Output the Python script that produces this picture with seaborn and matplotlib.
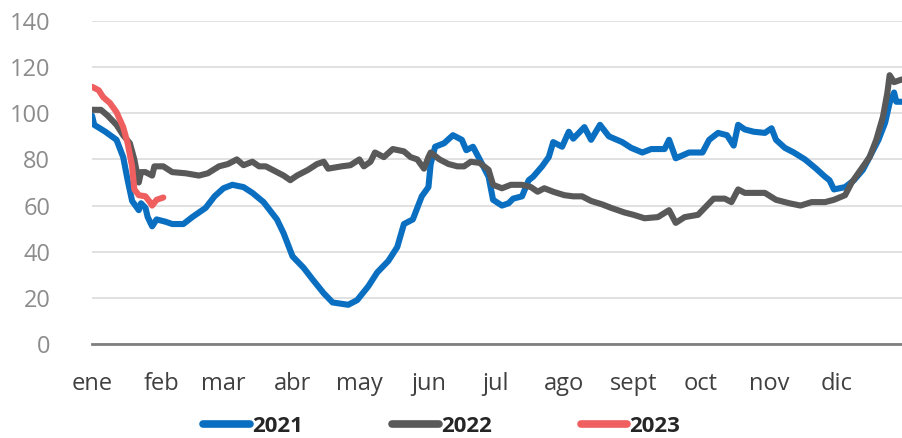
import pandas as pd
import matplotlib
matplotlib.use('Agg')
import matplotlib.pyplot as plt
import seaborn as sns

# day of year (0 = 1 ene) and value
dias_2021 = [0, 1, 6, 11, 14, 16, 18, 21, 22, 24, 25, 27, 29, 33, 36, 41, 45, 51, 55, 59,
             63, 68, 72, 77, 79, 83, 86, 90, 95, 99, 104, 108, 115, 119, 124, 128, 133, 137, 140, 144,
             148, 151, 152, 154, 158, 162, 166, 168, 171, 174, 178, 180, 184, 187, 189, 193, 196, 198, 202, 205,
             207, 211, 214, 216, 221, 224, 228, 232, 238, 242, 247, 251, 257, 259, 262, 268, 274, 277, 281, 285,
             288, 290, 293, 297, 302, 305, 307, 311, 315, 320, 325, 329, 331, 333, 338, 342, 346, 349, 353, 356,
             358, 360, 361, 365]
val_2021 = [99, 95, 92, 88.5, 81, 71, 62, 58, 61, 59, 55, 51, 54, 53, 52, 52, 55, 59, 64, 67.5,
            69, 68, 65.5, 61.5, 59, 54, 48, 38, 33, 28, 22, 18, 17, 19, 25, 31, 36, 42, 52, 54,
            64, 68, 78, 85.5, 87, 90.5, 88.5, 84, 85.5, 80, 72.5, 62.5, 60, 61, 63, 64, 71, 72.5, 77, 81,
            87.5, 85.5, 92, 89, 94, 88.5, 95, 90, 87.5, 85, 83, 84.5, 84.5, 88.5, 80.5, 83, 83, 88.5, 91.5, 90.5,
            86, 95, 93, 92, 91.5, 93.5, 88.5, 85, 83, 80, 76, 72.5, 71, 67, 68, 71, 75.5, 81, 88.5, 96,
            104.5, 109, 105, 105]

dias_2022 = [0, 4, 7, 11, 14, 17, 19, 21, 22, 24, 27, 28, 32, 36, 42, 48, 52, 57, 61, 65,
             68, 72, 75, 78, 81, 86, 89, 92, 97, 101, 104, 106, 112, 116, 120, 122, 125, 127, 131, 135,
             140, 143, 146, 149, 151, 152, 156, 160, 164, 167, 170, 174, 178, 180, 184, 188, 193, 197, 200, 203,
             207, 212, 216, 220, 224, 229, 233, 239, 243, 248, 254, 259, 262, 266, 272, 276, 279, 284, 287, 290,
             293, 297, 302, 307, 313, 318, 323, 329, 333, 338, 341, 345, 349, 352, 355, 357, 358, 360, 363, 365]
val_2022 = [101.5, 101.5, 99, 95, 90.5, 87, 80, 70, 74.5, 74.5, 73, 77, 77, 74.5, 74, 73, 74, 77, 78, 80,
            77.5, 79, 77, 77, 75.5, 73, 71, 73, 75.5, 78, 79, 76, 77, 77.5, 80, 77, 79, 83, 81, 84.5,
            83.5, 81, 80, 76, 81, 83, 80, 78, 77, 77, 79, 78.5, 75.5, 69, 67.5, 69, 69, 68, 66, 67.5,
            66, 64.5, 64, 64, 62, 60.5, 59, 57, 56, 54.5, 55, 58, 52.5, 55, 56, 60, 63, 63, 61.5, 67,
            65.5, 65.5, 65.5, 62.5, 61, 60, 61.5, 61.5, 62.5, 64.5, 70, 75.5, 81, 88.5, 98.5, 109, 116.5, 113.5, 114.5, 115]

dias_2023 = [0, 3, 5, 8, 11, 14, 16, 18, 19, 21, 24, 26, 27, 29, 32]
val_2023 = [111.5, 110, 107, 104.5, 100.5, 94, 87, 77, 67, 64.5, 64, 61.5, 60, 62.5, 63.5]

meses = ['ene', 'feb', 'mar', 'abr', 'may', 'jun', 'jul', 'ago', 'sept', 'oct', 'nov', 'dic']
inicio_mes = [0, 31, 59, 90, 120, 151, 181, 212, 243, 273, 304, 334]

colores = {'2021': '#0a6fc1', '2022': '#595959', '2023': '#ef5f5f'}

df = pd.concat([
    pd.DataFrame({'dia': dias_2021, 'valor': val_2021, 'anio': '2021'}),
    pd.DataFrame({'dia': dias_2022, 'valor': val_2022, 'anio': '2022'}),
    pd.DataFrame({'dia': dias_2023, 'valor': val_2023, 'anio': '2023'}),
])

sns.set_style('white')
plt.rcParams['font.family'] = ['Open Sans', 'DejaVu Sans']

fig = plt.figure(figsize=(9.03, 4.38), dpi=100)
ax = fig.add_axes([92 / 903, 1 - 344 / 438, 1 - 92 / 903, (344 - 21) / 438])

sns.lineplot(data=df, x='dia', y='valor', hue='anio', palette=colores,
             linewidth=4.4, ax=ax, legend=False, sort=False)
for ln in ax.lines:
    ln.set_solid_capstyle('round')
    ln.set_solid_joinstyle('round')

ax.set_xlim(0, 364)
ax.set_ylim(0, 140)
ax.set_yticks(range(0, 141, 20))
ax.set_xticks(inicio_mes)
ax.set_xticklabels(meses)
ax.set_xlabel('')
ax.set_ylabel('')

ax.grid(axis='y', color='#d9d9d9', linewidth=1.1)
ax.set_axisbelow(True)
for s in ['top', 'right', 'left']:
    ax.spines[s].set_visible(False)
ax.spines['bottom'].set_color('#7f7f7f')
ax.spines['bottom'].set_linewidth(2)
ax.spines['bottom'].set_zorder(5)

ax.tick_params(axis='x', direction='inout', length=12, width=1.6, color='#7f7f7f',
               pad=14, labelsize=17, labelcolor='#404040')
ax.tick_params(axis='y', length=0, pad=30, labelsize=17, labelcolor='#8c8c8c')

handles = [plt.Line2D([], [], color=colores[k], linewidth=5.5, solid_capstyle='round') for k in colores]
leg = fig.legend(handles, list(colores), loc='center', bbox_to_anchor=(442 / 903, 1 - 426 / 438),
                 ncol=3, frameon=False, handlelength=2.1, handletextpad=0.1, columnspacing=4.0,
                 prop={'weight': 'bold', 'size': 16})
for t in leg.get_texts():
    t.set_color('#262626')

fig.savefig('out.png', dpi=100)
